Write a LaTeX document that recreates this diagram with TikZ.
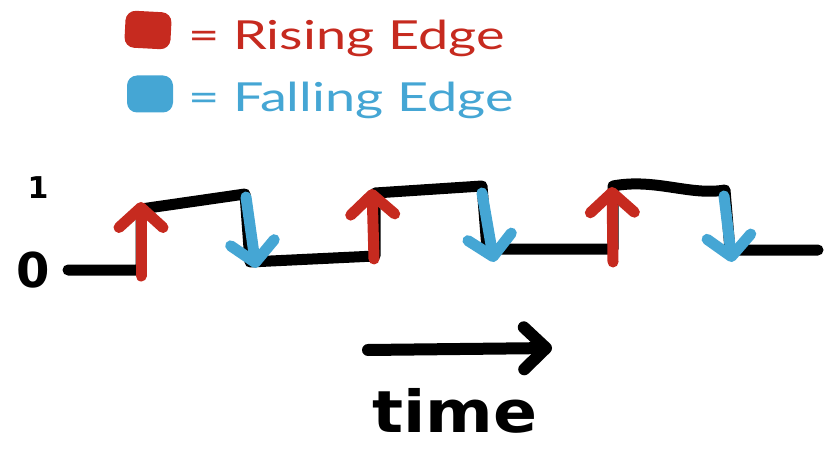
\documentclass[tikz,border=0pt]{standalone}
\usepackage{fontspec}
\usepackage{graphicx}
\setmainfont{Lato}
\newfontfamily\markfont{DejaVu Sans}
\definecolor{edgered}{HTML}{C62A1F}
\definecolor{edgeblue}{HTML}{45A6D4}
\usetikzlibrary{arrows.meta}

\begin{document}
\begin{tikzpicture}[x=1pt,y=-1pt,
  key/.style={rounded corners=10pt, minimum width=46pt, minimum height=37pt,
              inner sep=0pt},
  keytxt/.style={anchor=base west, inner sep=0pt,
                 font=\fontsize{40}{46}\selectfont},
  lvl/.style={inner sep=0pt, font=\markfont\bfseries\fontsize{48}{48}\selectfont},
  sig/.style={black, line width=11pt, line cap=round, line join=round},
  rise/.style={edgered, line width=11pt, line cap=round,
               -{Straight Barb[length=20pt,width=44pt,round]}},
  fall/.style={edgeblue, line width=11pt, line cap=round,
               -{Straight Barb[length=20pt,width=44pt,round]}},
  timearrow/.style={black, line width=12pt, line cap=round,
                    -{Straight Barb[length=22pt,width=42pt,round]}}
]
  \useasboundingbox (0,0) rectangle (827,449);

  % legend
  \node[key, fill=edgered, rotate=-3] (redkey)  at (148,30) {};
  \node[key, fill=edgeblue]           (bluekey) at (150,94) {};
  \node[keytxt, text=edgered]  (redtxt)  at (188,50)  {\scalebox{1.35}[1]{= Rising Edge}};
  \node[keytxt, text=edgeblue] (bluetxt) at (188,112) {\scalebox{1.35}[1]{= Falling Edge}};

  % levels
  \node[lvl, font=\markfont\bfseries\fontsize{30}{30}\selectfont] (one) at (38,188) {1};
  \node[lvl] (zero) at (33,270) {0};

  % signal corners
  \coordinate (c0)  at (68,270);
  \coordinate (c1)  at (141,270);
  \coordinate (c2)  at (141,209);
  \coordinate (c3)  at (245,194);
  \coordinate (c4)  at (250,262);
  \coordinate (c5)  at (375,256);
  \coordinate (c6)  at (375,193);
  \coordinate (c7)  at (482,186);
  \coordinate (c8)  at (487,249);
  \coordinate (c9)  at (613,249);
  \coordinate (c10) at (613,186);
  \coordinate (c11) at (725,190);
  \coordinate (c12) at (730,250);
  \coordinate (c13) at (818,250);

  \draw[sig] (c0) -- (c1) -- (c2) -- (c3) -- (c4) -- (c5) -- (c6) -- (c7)
    -- (c8) -- (c9) -- (c10) .. controls (655,178) and (690,196) .. (c11)
    -- (c12) -- (c13);

  % edges
  \coordinate (r1a) at (141,276); \coordinate (r1b) at (141,202);
  \coordinate (f1a) at (246,197); \coordinate (f1b) at (256,268);
  \coordinate (r2a) at (374,259); \coordinate (r2b) at (372,189);
  \coordinate (f2a) at (482,193); \coordinate (f2b) at (494,262);
  \coordinate (r3a) at (613,262); \coordinate (r3b) at (612,187);
  \coordinate (f3a) at (724,196); \coordinate (f3b) at (732,262);

  \draw[rise] (r1a) -- (r1b);
  \draw[fall] (f1a) -- (f1b);
  \draw[rise] (r2a) -- (r2b);
  \draw[fall] (f2a) -- (f2b);
  \draw[rise] (r3a) -- (r3b);
  \draw[fall] (f3a) -- (f3b);

  % time axis
  \coordinate (t0) at (368,350);
  \coordinate (t1) at (552,348);
  \draw[timearrow] (t0) -- (t1);
  \node[anchor=base, inner sep=0pt,
        font=\markfont\bfseries\fontsize{58}{58}\selectfont] (timelbl)
    at (455,432) {\scalebox{1.12}[1]{time}};

\end{tikzpicture}
\end{document}
